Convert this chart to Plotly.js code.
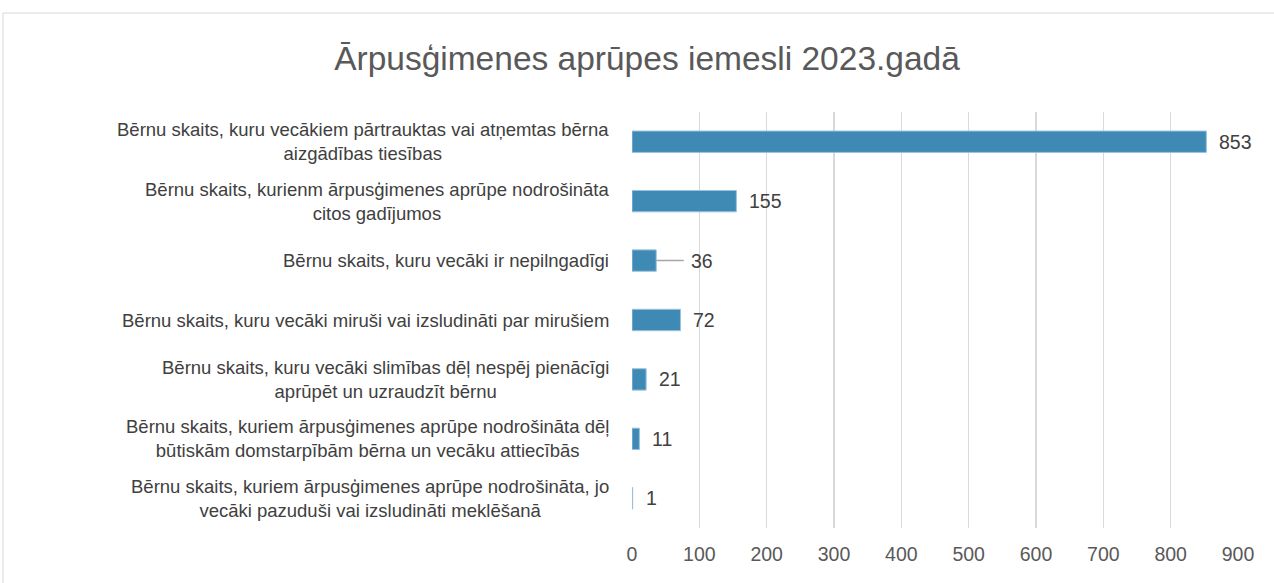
<!DOCTYPE html>
<html>
<head>
<meta charset="utf-8">
<script src="https://cdn.plot.ly/plotly-3.0.1.min.js"></script>
<style>html,body{margin:0;padding:0;background:#fff;}#chart{width:1274px;height:583px;}</style>
</head>
<body>
<div id="chart"></div>
<script>
const categories = [
  "Bērnu skaits, kuru vecākiem pārtrauktas vai atņemtas bērna<br>aizgādības tiesības",
  "Bērnu skaits, kurienm ārpusģimenes aprūpe nodrošināta<br>citos gadījumos",
  "Bērnu skaits, kuru vecāki ir nepilngadīgi",
  "Bērnu skaits, kuru vecāki miruši vai izsludināti par mirušiem",
  "Bērnu skaits, kuru vecāki slimības dēļ nespēj pienācīgi<br>aprūpēt un uzraudzīt bērnu",
  "Bērnu skaits, kuriem ārpusģimenes aprūpe nodrošināta dēļ<br>būtiskām domstarpībām bērna un vecāku attiecībās",
  "Bērnu skaits, kuriem ārpusģimenes aprūpe nodrošināta, jo<br>vecāki pazuduši vai izsludināti meklēšanā"
];
const values = [853, 155, 36, 72, 21, 11, 1];
const tickValues = [0, 100, 200, 300, 400, 500, 600, 700, 800, 900];
const titleText = "Ārpusģimenes aprūpes iemesli 2023.gadā";

const FONT = "Liberation Sans, Arial, sans-serif";
const ids = categories.map((c, i) => "c" + i);

const trace = {
  type: "bar",
  orientation: "h",
  x: values,
  y: ids,
  marker: {color: "#3F89B5", line: {color: "#9CC3DF", width: 1}},
  hoverinfo: "skip"
};

const annotations = [];
categories.forEach((c, i) => {
  annotations.push({
    xref: "paper", yref: "y", x: 0, y: ids[i], xshift: -21,
    xanchor: "right", yanchor: "middle", align: "center",
    text: c, showarrow: false,
    font: {family: FONT, size: 18.5, color: "#404040"}
  });
});
values.forEach((v, i) => {
  if (v === 36) {
    annotations.push({
      xref: "x", yref: "y", x: v, y: ids[i],
      text: String(v), showarrow: true, arrowhead: 0, arrowwidth: 1.5,
      arrowcolor: "#A6A6A6", ax: 46, ay: 0, standoff: 0, borderpad: 7,
      font: {family: FONT, size: 19.5, color: "#404040"}
    });
  } else {
    annotations.push({
      xref: "x", yref: "y", x: v, y: ids[i], xshift: 11,
      xanchor: "left", yanchor: "middle",
      text: String(v), showarrow: false,
      font: {family: FONT, size: 19.5, color: "#404040"}
    });
  }
});

const L = 632, R = 36, T = 112, B = 55, W = 1274, H = 583;
const pw = W - L - R, ph = H - T - B;

const layout = {
  width: W, height: H,
  margin: {l: L, r: R, t: T, b: B},
  paper_bgcolor: "#ffffff",
  plot_bgcolor: "#ffffff",
  showlegend: false,
  bargap: 0.64,
  title: {
    text: titleText,
    font: {family: FONT, size: 33.5, color: "#595959"},
    x: 647 / W, xref: "container", xanchor: "center",
    y: 1 - 58 / H, yref: "container", yanchor: "middle"
  },
  xaxis: {
    range: [0, 900],
    tickvals: tickValues,
    ticktext: tickValues.map(String),
    showgrid: true, gridcolor: "#D9D9D9", gridwidth: 1.5,
    zeroline: false, showline: false, ticks: "",
    tickfont: {family: FONT, size: 19.5, color: "#595959"},
    ticklabelstandoff: 12,
    fixedrange: true
  },
  yaxis: {
    type: "category",
    categoryorder: "array",
    categoryarray: ids,
    autorange: "reversed",
    showticklabels: false,
    showgrid: false, zeroline: false, showline: false, ticks: "",
    fixedrange: true
  },
  annotations: annotations,
  shapes: [{
    type: "rect", xref: "paper", yref: "paper",
    x0: (3 - L) / pw, x1: (W + 5 - L) / pw,
    y0: -(H + 5 - T - ph) / ph, y1: 1 + (T - 13) / ph,
    line: {color: "#D9D9D9", width: 1}, fillcolor: "rgba(0,0,0,0)", layer: "below"
  }]
};

Plotly.newPlot("chart", [trace], layout, {displayModeBar: false, staticPlot: true});
</script>
</body>
</html>
